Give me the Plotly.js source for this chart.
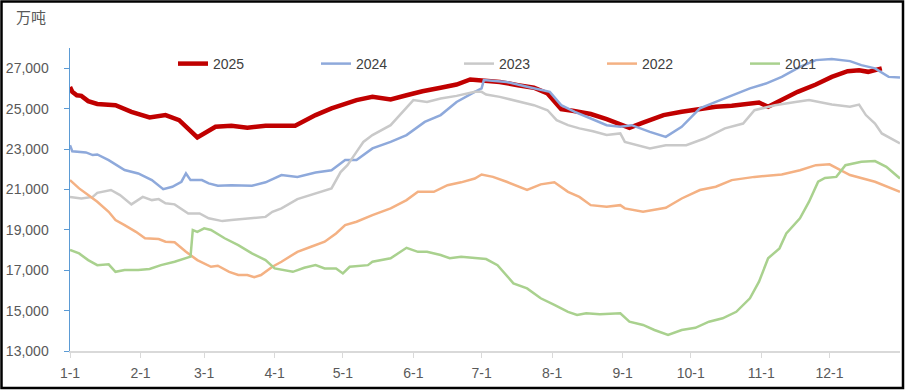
<!DOCTYPE html>
<html>
<head>
<meta charset="utf-8">
<script src="https://cdn.plot.ly/plotly-3.0.1.min.js"></script>
<style>
html,body{margin:0;padding:0;background:#fff;}
#chart{width:907px;height:391px;}
</style>
</head>
<body>
<div id="chart"></div>
<script>
// x = day of year (0 = Jan 1), y = 万吨
var monthStarts = [0,31,59,90,120,151,181,212,243,273,304,334];
var monthLabels = ["1-1","2-1","3-1","4-1","5-1","6-1","7-1","8-1","9-1","10-1","11-1","12-1"];
var yTicks = [13000,15000,17000,19000,21000,23000,25000,27000];

var days2025 = [0,1,3,5,8,12,20,27,35,42,48,56,64,71,78,86,99,108,115,121,126,133,141,148,155,163,170,176,182,189,197,204,210,216,221,229,236,242,246,252,261,269,276,284,291,298,303,307,313,320,328,335,342,347,351,357];
var vals2025 = [26070,25830,25660,25630,25370,25230,25170,24840,24560,24680,24430,23570,24100,24150,24050,24150,24150,24680,25010,25250,25420,25580,25450,25660,25860,26030,26190,26440,26410,26320,26160,26030,25750,24970,24890,24730,24480,24220,24050,24310,24680,24840,24970,25090,25140,25250,25300,25090,25420,25830,26190,26570,26850,26900,26820,26990];

var days2024 = [0,1,7,10,12,17,24,30,36,41,45,49,51,53,58,61,65,71,80,86,93,100,108,115,121,126,133,141,148,156,163,170,178,181,182,192,201,211,216,222,229,236,242,247,255,262,269,277,284,291,299,306,313,321,328,335,343,348,354,360,365];
var vals2024 = [23190,22890,22830,22700,22730,22450,21960,21790,21460,21010,21130,21380,21790,21460,21460,21300,21180,21210,21180,21350,21710,21620,21840,21950,22450,22450,23030,23350,23690,24340,24680,25330,25830,26000,26410,26320,26080,25830,25170,24840,24510,24180,24100,24180,23850,23600,24100,25010,25330,25660,26000,26240,26570,27070,27400,27450,27350,27150,26990,26570,26540];

var days2023 = [0,5,10,12,18,22,27,32,36,39,42,46,52,57,61,67,71,78,86,89,93,100,108,115,119,122,126,129,133,141,145,151,157,163,170,178,181,183,189,197,204,210,214,219,224,230,236,242,244,255,262,271,279,288,296,301,310,319,325,335,343,347,350,354,357,365];
var vals2023 = [20630,20550,20630,20830,20970,20720,20260,20630,20470,20520,20310,20260,19810,19810,19570,19430,19480,19570,19640,19890,20060,20520,20800,21050,21860,22200,22860,23350,23690,24180,24680,25420,25330,25500,25630,25830,25830,25700,25580,25370,25170,24920,24430,24180,24020,23880,23690,23770,23350,23030,23190,23190,23520,24020,24260,24920,25170,25330,25420,25200,25090,25200,24680,24260,23770,23280];

var days2022 = [0,4,8,12,17,20,24,29,33,39,42,46,51,54,56,62,65,70,74,78,81,84,89,93,100,106,112,117,121,126,133,141,148,153,160,166,172,178,181,186,192,201,207,213,219,224,229,236,242,244,252,262,269,277,284,291,301,313,321,328,334,343,354,365];
var vals2022 = [21460,21050,20720,20390,19890,19480,19230,18900,18580,18540,18410,18380,17910,17670,17500,17170,17220,16920,16760,16760,16650,16760,17170,17420,17910,18160,18410,18820,19230,19400,19730,20060,20470,20880,20880,21210,21350,21540,21740,21620,21380,20970,21250,21350,20880,20630,20220,20140,20220,20060,19890,20090,20550,20970,21130,21460,21620,21740,21950,22200,22240,21710,21380,20880];

var days2021 = [0,4,8,12,17,20,24,30,35,40,46,53,54,56,59,62,68,74,80,86,90,98,103,108,112,117,120,123,131,133,141,145,148,153,157,163,167,172,178,183,188,195,201,207,213,219,223,227,233,242,246,252,257,263,269,275,281,287,293,299,303,307,312,315,321,325,329,332,337,341,348,354,359,365];
var vals2021 = [18000,17830,17500,17250,17290,16920,17010,17010,17060,17250,17420,17670,18990,18900,19070,18990,18580,18240,17830,17500,17090,16920,17120,17250,17090,17090,16840,17170,17250,17420,17590,17910,18110,17910,17910,17750,17590,17670,17590,17550,17250,16350,16100,15610,15280,14940,14780,14870,14820,14870,14450,14290,14040,13790,14040,14150,14450,14620,14940,15610,16430,17590,18080,18820,19570,20390,21380,21570,21620,22200,22370,22400,22120,21540];

var seriesNames = ["2025","2024","2023","2022","2021"];
var seriesDays = [days2025, days2024, days2023, days2022, days2021];
var seriesVals = [vals2025, vals2024, vals2023, vals2022, vals2021];
var seriesColors = ["#C00000","#8EA9DB","#C9C9C9","#F4B183","#A9D18E"];
var seriesWidths = [4.5, 2.5, 2.5, 2.5, 2.5];

var traces = seriesNames.map(function(n, i){
  return {
    type: "scatter", mode: "lines", name: n,
    x: seriesDays[i], y: seriesVals[i],
    line: {color: seriesColors[i], width: seriesWidths[i]},
    hoverinfo: "skip"
  };
});

var L = 70, R = 7, T = 48, B = 40;
var pw = 907 - L - R, ph = 391 - T - B;
function px(x){ return (x - L) / pw; }
function py(y){ return (391 - B - y) / ph; }

var tickFont = {family: "Liberation Sans, Arial, sans-serif", size: 14, color: "#595959"};

var layout = {
  width: 907, height: 391,
  margin: {l: L, r: R, t: T, b: B, pad: 0, autoexpand: false},
  paper_bgcolor: "#ffffff", plot_bgcolor: "#ffffff",
  showlegend: true,
  legend: {
    orientation: "h", x: px(173), xanchor: "left", y: py(64), yanchor: "middle",
    font: {family: "Liberation Sans, Arial, sans-serif", size: 14, color: "#404040"},
    entrywidth: 98, entrywidthmode: "pixels", bgcolor: "rgba(0,0,0,0)",
    traceorder: "normal"
  },
  xaxis: {
    range: [0, 365], tickmode: "array", tickvals: monthStarts, ticktext: monthLabels,
    showgrid: false, zeroline: false, showline: true, linecolor: "#D9D9D9", linewidth: 1.5,
    ticks: "outside", ticklen: 5, tickcolor: "#D9D9D9", tickfont: tickFont,
    ticklabelstandoff: 4, fixedrange: true
  },
  yaxis: {
    range: [13000, 28000], tickmode: "array", tickvals: yTicks, tickformat: ",d",
    showgrid: false, zeroline: false, showline: true, linecolor: "#5B9BD5", linewidth: 1.5,
    ticks: "outside", ticklen: 5, tickcolor: "#5B9BD5", tickfont: tickFont,
    ticklabelstandoff: 12, fixedrange: true
  },
  annotations: [{
    text: "万吨", xref: "paper", yref: "paper", x: px(31), y: py(17),
    xanchor: "center", yanchor: "middle", showarrow: false,
    font: {family: "Noto Sans CJK SC, sans-serif", size: 15, color: "#595959"}
  }],
  shapes: [{
    type: "rect", xref: "paper", yref: "paper",
    x0: px(1.5), x1: px(903), y0: py(388), y1: py(1.5),
    line: {color: "#000000", width: 2.5}, fillcolor: "rgba(0,0,0,0)", layer: "above"
  }]
};

Plotly.newPlot("chart", traces, layout, {displayModeBar: false, staticPlot: true});
</script>
</body>
</html>
